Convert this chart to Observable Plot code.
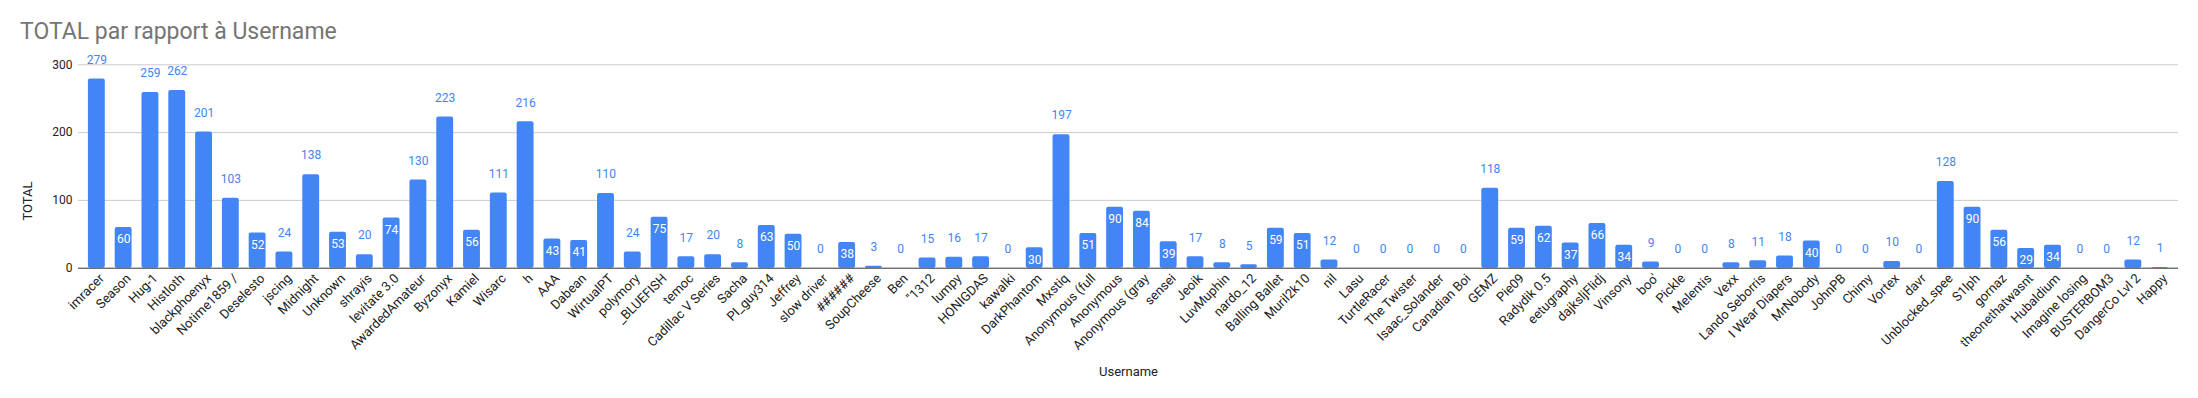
<!DOCTYPE html>
<html>
<head>
<meta charset="utf-8">
<script src="https://cdn.jsdelivr.net/npm/d3@7"></script>
<script src="https://cdn.jsdelivr.net/npm/@observablehq/plot@0.6"></script>
<style>
  html, body { margin: 0; padding: 0; background: #fff; }
  #wrap { position: relative; width: 2198px; height: 398px; font-family: Roboto, sans-serif; }
  #title { position: absolute; left: 20px; top: 20px; font-size: 23px; line-height: 23px; color: #757575; white-space: nowrap; }
  #ylabel { position: absolute; left: 27px; top: 201px; font-size: 13px; color: #222; transform: translate(-50%, -50%) rotate(-90deg); white-space: nowrap; }
  #chart { position: absolute; left: 0; top: 0; }
</style>
</head>
<body>
<div id="wrap">
  <div id="chart"></div>
  <div id="title">TOTAL par rapport à Username</div>
  <div id="ylabel">TOTAL</div>
</div>
<script>
const usernames = [
  "imracer","Season","Hug-1","Histloth","blackphoenyx","Notime1859 /","Deselesto","jscing","Midnight","Unknown",
  "shrayis","levitate 3.0","AwardedAmateur","Byzonyx","Kamiel","Wisarc","h","AAA","Dabean","WirtualPT",
  "polymory","_BLUEFISH","temoc","Cadillac V Series","Sacha","PI_guy314","Jeffrey","slow driver","######","SoupCheese",
  "Ben","\"1312","lumpy","HONIGDAS","kawalki","DarkPhantom","Mxstiq","Anonymous (full","Anonymous","Anonymous (gray",
  "sensei","Jeoik","LuvMuphin","nardo_12","Balling Ballet","Muril2k10","nil","Lasu","TurtleRacer","The Twister",
  "Isaac_Solander","Canadian Boi","GEMZ","Pie09","Radydik 0.5","eetugraphy","dajksljFlidj","Vinsony","boo'","Pickle",
  "Melentis","Vexx","Lando Seborris","I Wear Diapers","MrNobody","JohnPB","Chimy","Vortex","davr","Unblocked_spee",
  "S1lph","gornaz","theonethatwasnt","Hubaldium","Imagine losing","BUSTERBOM3","DangerCo Lvl 2","Happy"
];
const totals = [
  279,60,259,262,201,103,52,24,138,53,
  20,74,130,223,56,111,216,43,41,110,
  24,75,17,20,8,63,50,0,38,3,
  0,15,16,17,0,30,197,51,90,84,
  39,17,8,5,59,51,12,0,0,0,
  0,0,118,59,62,37,66,34,9,0,
  0,8,11,18,40,0,0,10,0,128,
  90,56,29,34,0,0,12,1
];
const yTicks = [0, 100, 200, 300];

const data = usernames.map((u, i) => ({username: u, total: totals[i]}));
const inside = d => d.total >= 25 && d.total < 100;

const chart = Plot.plot({
  width: 2198,
  height: 398,
  marginLeft: 78,
  marginRight: 20,
  marginTop: 64.3,
  marginBottom: 130.3,
  style: {fontFamily: "Roboto, sans-serif", fontSize: "13px", background: "#fff"},
  x: {type: "band", domain: usernames, padding: 0.37},
  y: {domain: [0, 300], ticks: yTicks},
  marks: [
    Plot.gridY(yTicks.filter(t => t > 0), {stroke: "#cccccc", strokeOpacity: 1}),
    Plot.barY(data, {x: "username", y: "total", fill: "#4285f4", rx: 2}),
    Plot.ruleY([0], {stroke: "#333333"}),
    Plot.text(data.filter(d => !inside(d)), {x: "username", y: "total", text: d => String(d.total), dy: -19, fill: "#4285f4", fontSize: 12}),
    Plot.text(data.filter(inside), {x: "username", y: "total", text: d => String(d.total), dy: 12, fill: "#ffffff", fontSize: 12}),
    Plot.axisY({ticks: yTicks, tickSize: 0, tickPadding: 6, label: null, fill: "#222", fontSize: 12}),
    Plot.axisX({tickRotate: -45, tickSize: 0, tickPadding: 8, dx: 5, fill: "#222", fontSize: 13,
      label: "Username", labelAnchor: "center", labelOffset: 108, labelArrow: "none"})
  ]
});
document.getElementById("chart").appendChild(chart);
</script>
</body>
</html>
